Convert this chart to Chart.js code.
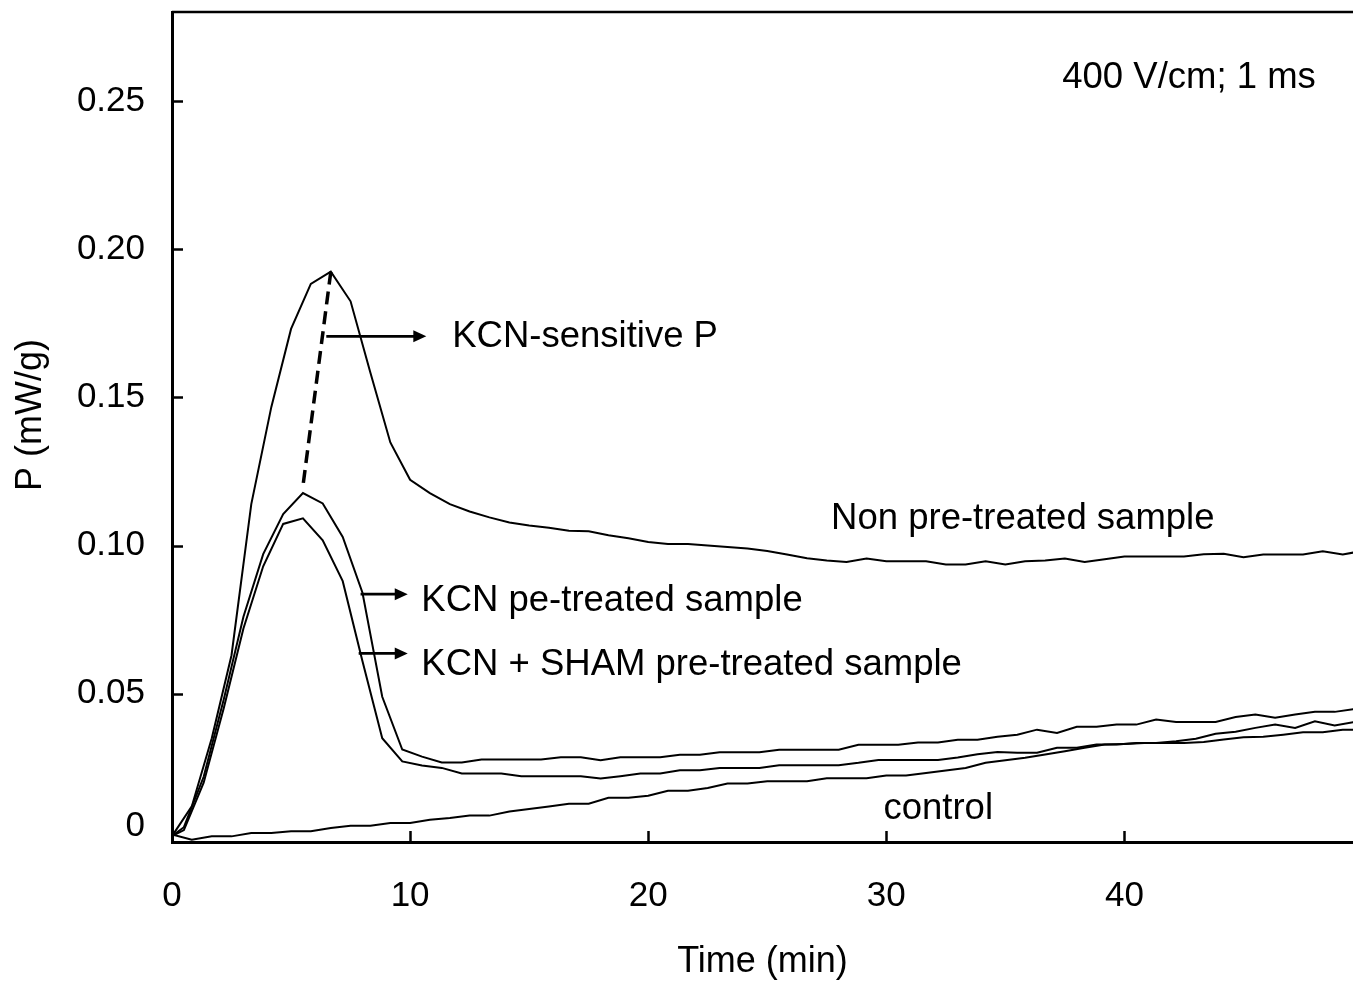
<!DOCTYPE html>
<html>
<head>
<meta charset="utf-8">
<script src="https://cdn.jsdelivr.net/npm/chart.js@4/dist/chart.umd.min.js"></script>
<style>
  html, body { margin: 0; padding: 0; background: #fff; }
  #wrap { width: 1353px; height: 984px; }
</style>
</head>
<body>
<div id="wrap"><canvas id="c" width="1353" height="984"></canvas></div>
<script>
// ---- data (time in min, P in mW/g) ----
const timesA = [0, 0.83, 1.67, 2.5, 3.33, 4.17, 5, 5.83, 6.67, 7.5, 8.33, 9.17, 10, 10.83, 11.67, 12.5, 13.33, 14.17, 15, 15.83, 16.67, 17.5, 18.33, 19.17, 20, 20.83, 21.67, 22.5, 23.33, 24.17, 25, 25.83, 26.67, 27.5, 28.33, 29.17, 30, 30.83, 31.67, 32.5, 33.33, 34.17, 35, 35.83, 36.67, 37.5, 38.33, 39.17, 40, 40.83, 41.67, 42.5, 43.33, 44.17, 45, 45.83, 46.67, 47.5, 48.33, 49.17, 50];
const timesB = [0, 0.5, 1.33, 2.17, 3, 3.83, 4.67, 5.5, 6.33, 7.17, 8, 8.83, 9.67, 10.5, 11.33, 12.17, 13, 13.83, 14.67, 15.5, 16.33, 17.17, 18, 18.83, 19.67, 20.5, 21.33, 22.17, 23, 23.83, 24.67, 25.5, 26.33, 27.17, 28, 28.83, 29.67, 30.5, 31.33, 32.17, 33, 33.83, 34.67, 35.5, 36.33, 37.17, 38, 38.83, 39.67, 40.5, 41.33, 42.17, 43, 43.83, 44.67, 45.5, 46.33, 47.17, 48, 48.83, 49.67];

const nonPretreated = [0.002, 0.012, 0.035, 0.063, 0.114, 0.1467, 0.1731, 0.1883, 0.1924, 0.1824, 0.1584, 0.1348, 0.1222, 0.1177, 0.114, 0.1115, 0.1095, 0.1078, 0.1068, 0.106, 0.105, 0.1048, 0.1035, 0.1025, 0.1012, 0.1005, 0.1005, 0.1, 0.0995, 0.099, 0.0982, 0.097, 0.0957, 0.095, 0.0945, 0.0956, 0.0947, 0.0947, 0.0947, 0.0936, 0.0936, 0.0947, 0.0936, 0.0947, 0.095, 0.0956, 0.0945, 0.0954, 0.0963, 0.0963, 0.0963, 0.0963, 0.0971, 0.0972, 0.0961, 0.097, 0.097, 0.097, 0.0981, 0.097, 0.0982];
const kcnPretreated = [0.002, 0.005, 0.022, 0.048, 0.076, 0.0971, 0.1106, 0.1177, 0.1142, 0.1029, 0.0841, 0.049, 0.0312, 0.0288, 0.0268, 0.0268, 0.0278, 0.0278, 0.0278, 0.0278, 0.0286, 0.0286, 0.0276, 0.0286, 0.0286, 0.0286, 0.0294, 0.0294, 0.0303, 0.0303, 0.0303, 0.0311, 0.0311, 0.0311, 0.0311, 0.0328, 0.0328, 0.0328, 0.0336, 0.0336, 0.0345, 0.0345, 0.0355, 0.0362, 0.0379, 0.0368, 0.0389, 0.0389, 0.0396, 0.0396, 0.0413, 0.0405, 0.0405, 0.0405, 0.0422, 0.043, 0.0419, 0.043, 0.0439, 0.0439, 0.0449];
const kcnShamPretreated = [0.002, 0.004, 0.02, 0.045, 0.072, 0.093, 0.1073, 0.1092, 0.1018, 0.088, 0.061, 0.035, 0.0272, 0.0258, 0.025, 0.0231, 0.0231, 0.0231, 0.0222, 0.0222, 0.0222, 0.0222, 0.0214, 0.0222, 0.0231, 0.0231, 0.0242, 0.0242, 0.025, 0.025, 0.025, 0.0259, 0.0259, 0.0259, 0.0259, 0.0267, 0.0277, 0.0277, 0.0277, 0.0277, 0.0285, 0.0296, 0.0304, 0.0301, 0.0301, 0.0318, 0.0318, 0.0329, 0.0329, 0.0334, 0.0334, 0.034, 0.0348, 0.0365, 0.0372, 0.0385, 0.0396, 0.0385, 0.0407, 0.0393, 0.0405];
const control = [0.0025, 0.0008, 0.0019, 0.0019, 0.003, 0.003, 0.0036, 0.0036, 0.0047, 0.0055, 0.0055, 0.0064, 0.0064, 0.0075, 0.0081, 0.0089, 0.0089, 0.0103, 0.0111, 0.012, 0.0129, 0.0129, 0.0149, 0.0149, 0.0156, 0.0173, 0.0173, 0.0182, 0.0197, 0.0197, 0.0205, 0.0205, 0.0205, 0.0215, 0.0215, 0.0215, 0.0224, 0.0224, 0.0233, 0.0241, 0.025, 0.0267, 0.0276, 0.0284, 0.0295, 0.0306, 0.0318, 0.0329, 0.0331, 0.0334, 0.0334, 0.0334, 0.0337, 0.0346, 0.0353, 0.0355, 0.0362, 0.037, 0.037, 0.0379, 0.0379];

// KCN-sensitive part (dashed): from non-pretreated peak to KCN pre-treated peak
const sensitiveTimes = [6.67, 5.5];
const sensitiveValues = [0.1924, 0.1201];

const xTickValues = [0, 10, 20, 30, 40];
const yTickValues = [0, 0.05, 0.10, 0.15, 0.20, 0.25];

const yAxisTitle = 'P (mW/g)';
const xAxisTitle = 'Time (min)';

// annotations (data coordinates)
const annotationTexts = [
  { text: '400 V/cm; 1 ms', x: 37.39, y: 0.2542 },
  { text: 'KCN-sensitive P', x: 11.77, y: 0.1669 },
  { text: 'Non pre-treated sample', x: 27.68, y: 0.1057 },
  { text: 'KCN pe-treated sample', x: 10.47, y: 0.0779 },
  { text: 'KCN + SHAM pre-treated sample', x: 10.47, y: 0.0562 },
  { text: 'control', x: 29.88, y: 0.0078 }
];
const annotationArrows = [
  { x0: 6.48, x1: 10.68, y: 0.1706 },
  { x0: 7.92, x1: 9.90, y: 0.0836 },
  { x0: 7.84, x1: 9.90, y: 0.0636 }
];

function pts(xs, ys) {
  const n = Math.min(xs.length, ys.length);
  const out = [];
  for (let i = 0; i < n; i++) out.push({ x: xs[i], y: ys[i] });
  return out;
}

const FONT = '"Liberation Sans", Arial, "Helvetica Neue", sans-serif';

const decor = {
  id: 'decor',
  afterDraw(chart) {
    const { ctx, chartArea: a, scales: { x, y } } = chart;
    ctx.save();
    ctx.strokeStyle = '#000';
    ctx.fillStyle = '#000';
    // top frame line
    ctx.lineWidth = 2.5;
    ctx.beginPath();
    ctx.moveTo(a.left, a.top);
    ctx.lineTo(a.right, a.top);
    ctx.stroke();
    // inward tick marks
    ctx.lineWidth = 2.5;
    yTickValues.forEach(v => {
      if (v === 0) return;
      const py = Math.round(y.getPixelForValue(v)) + 0.5;
      ctx.beginPath();
      ctx.moveTo(a.left, py);
      ctx.lineTo(a.left + 11, py);
      ctx.stroke();
    });
    xTickValues.forEach(v => {
      if (v === 0) return;
      const px = Math.round(x.getPixelForValue(v)) + 0.5;
      ctx.beginPath();
      ctx.moveTo(px, a.bottom);
      ctx.lineTo(px, a.bottom - 11);
      ctx.stroke();
    });
    // arrows
    annotationArrows.forEach(ar => {
      const x0 = x.getPixelForValue(ar.x0);
      const x1 = x.getPixelForValue(ar.x1);
      const py = y.getPixelForValue(ar.y);
      const head = 13;
      ctx.lineWidth = 2.8;
      ctx.beginPath();
      ctx.moveTo(x0, py);
      ctx.lineTo(x1 - head + 1, py);
      ctx.stroke();
      ctx.beginPath();
      ctx.moveTo(x1, py);
      ctx.lineTo(x1 - head, py - 6);
      ctx.lineTo(x1 - head, py + 6);
      ctx.closePath();
      ctx.fill();
    });
    // texts
    ctx.font = '36.5px ' + FONT;
    ctx.textAlign = 'left';
    ctx.textBaseline = 'alphabetic';
    annotationTexts.forEach(t => {
      ctx.fillText(t.text, x.getPixelForValue(t.x), y.getPixelForValue(t.y));
    });
    // y axis title (rotated)
    ctx.font = '36px ' + FONT;
    ctx.textAlign = 'center';
    ctx.textBaseline = 'middle';
    ctx.translate(y.left + 31, (a.top + a.bottom) / 2 - 12);
    ctx.rotate(-Math.PI / 2);
    ctx.fillText(yAxisTitle, 0, 0);
    ctx.restore();
  }
};

const lineStyle = {
  borderColor: '#000',
  borderWidth: 2,
  pointRadius: 0,
  pointHoverRadius: 0,
  tension: 0,
  fill: false
};

function zeroPadding(scale) {
  scale.paddingTop = 0;
  scale.paddingBottom = 0;
  scale.paddingLeft = 0;
  scale.paddingRight = 0;
}

new Chart(document.getElementById('c'), {
  type: 'line',
  data: {
    datasets: [
      Object.assign({ label: 'Non pre-treated sample', data: pts(timesA, nonPretreated) }, lineStyle),
      Object.assign({ label: 'KCN pe-treated sample', data: pts(timesB, kcnPretreated) }, lineStyle),
      Object.assign({ label: 'KCN + SHAM pre-treated sample', data: pts(timesB, kcnShamPretreated) }, lineStyle),
      Object.assign({ label: 'control', data: pts(timesA, control) }, lineStyle),
      Object.assign({ label: 'KCN-sensitive P', data: pts(sensitiveTimes, sensitiveValues) }, lineStyle, { borderWidth: 3.5, borderDash: [13, 7] })
    ]
  },
  options: {
    responsive: false,
    animation: false,
    events: [],
    layout: { padding: { top: 12, right: 0, left: 0, bottom: 0 } },
    plugins: {
      legend: { display: false },
      tooltip: { enabled: false },
      title: { display: false }
    },
    scales: {
      x: {
        type: 'linear',
        min: 0,
        max: 49.6,
        afterFit(scale) { scale.height = 142; zeroPadding(scale); },
        afterBuildTicks(scale) { scale.ticks = xTickValues.map(v => ({ value: v })); },
        grid: { display: true, drawOnChartArea: false, drawTicks: false },
        border: { display: true, color: '#000', width: 3 },
        ticks: {
          color: '#000',
          font: { family: FONT, size: 35 },
          padding: 33,
          maxRotation: 0,
          autoSkip: false,
          callback: v => String(v)
        },
        title: {
          display: true,
          text: xAxisTitle,
          color: '#000',
          font: { family: FONT, size: 36 },
          padding: { top: 0, bottom: 0 }
        }
      },
      y: {
        type: 'linear',
        min: 0,
        max: 0.28,
        afterFit(scale) { scale.width = 172; zeroPadding(scale); },
        afterBuildTicks(scale) { scale.ticks = yTickValues.map(v => ({ value: v })); },
        grid: { display: true, drawOnChartArea: false, drawTicks: false },
        border: { display: true, color: '#000', width: 3 },
        ticks: {
          color: '#000',
          font: { family: FONT, size: 35, lineHeight: 0.92 },
          padding: 27,
          autoSkip: false,
          callback: v => (v === 0 ? ['0', ''] : v.toFixed(2))
        },
        title: { display: false }
      }
    }
  },
  plugins: [decor]
});
</script>
</body>
</html>
